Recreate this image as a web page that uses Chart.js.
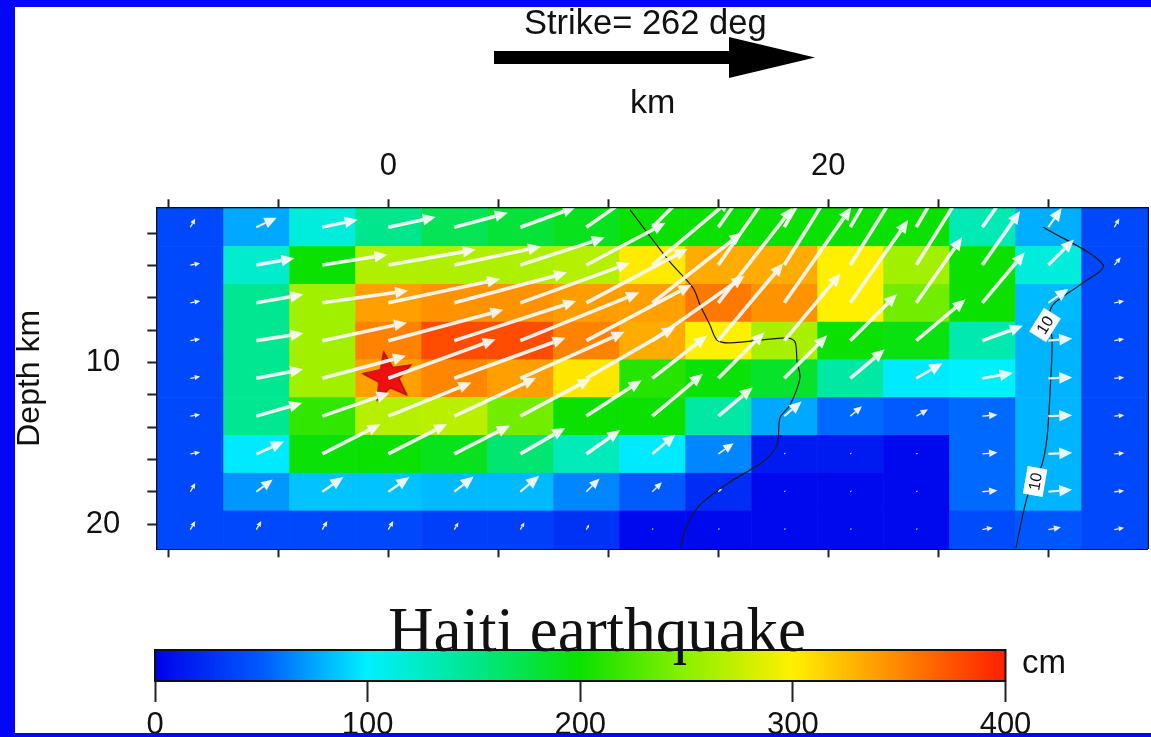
<!DOCTYPE html>
<html>
<head>
<meta charset="utf-8">
<script src="https://cdn.jsdelivr.net/npm/chart.js@4.4.1/dist/chart.umd.min.js"></script>
<style>
  html,body{margin:0;padding:0;}
  body{width:1151px;height:737px;background:#0606f6;position:relative;overflow:hidden;font-family:"Liberation Sans",Arial,sans-serif;}
  #paper{position:absolute;left:15px;top:7px;right:0;bottom:4px;background:#fff;}
  .abs{position:absolute;}
  #main{left:0;top:0;width:1151px;height:600px;}
  #bar{left:0;top:600px;width:1151px;height:137px;}
  .txt{position:absolute;color:#111;white-space:nowrap;line-height:1;}
  #edgeB{position:absolute;left:0;right:0;bottom:0;height:4px;background:#0606f6;}
</style>
</head>
<body>
<div id="paper"></div>
<div class="abs" id="main"><canvas id="chart-slip"></canvas></div>
<div class="abs" id="bar"><canvas id="chart-cbar"></canvas></div>

<div class="txt" style="left:524px;top:5px;font-size:34.5px">Strike= 262 deg</div>
<svg class="abs" style="left:0;top:0" width="1151" height="120">
  <rect x="494" y="51" width="240" height="13" fill="#000"/>
  <polygon points="729,37 815,57.5 729,78" fill="#000"/>
</svg>
<div class="txt" style="left:630px;top:84px;font-size:34px">km</div>
<div class="txt" style="left:1022px;top:645px;font-size:33px">cm</div>
<div class="txt" style="left:388px;top:599px;font-family:'Liberation Serif','Times New Roman',serif;font-size:63px">Haiti earthquake</div>
<div id="edgeB"></div>

<script>
/* ---------- data ---------- */
// subfault centres (km along strike / depth km)
const strikeKm = [-9,-6,-3,0,3,6,9,12,15,18,21,24,27,30,33];
const depthKm  = [1.62,3.96,6.30,8.64,10.97,13.31,15.65,17.99,20.33];
const cellHalfStrike = 1.5, cellHalfDepth = 1.169;

// slip (cm), one row per depth, top row first
const slipRows = [
  [40, 76,115,150,170,180,190,200,200,200,200,200,132, 78, 40],
  [40,122,200,265,265,265,268,303,333,333,300,259,200,115, 40],
  [40,148,259,338,345,345,340,338,357,345,300,240,200, 82, 40],
  [40,148,259,352,378,378,352,333,300,262,200,195,135, 80, 40],
  [40,148,259,338,350,338,305,210,198,185,140, 98,100, 80, 40],
  [40,148,215,268,270,240,200,200,140, 76, 55, 50, 55, 80, 40],
  [40, 98,198,200,190,160,130, 98, 65, 15, 15,  5, 55, 80, 40],
  [40, 70, 85, 85, 82, 82, 65, 50, 25,  5,  5,  5, 55, 80, 40],
  [40, 40, 40, 40, 35, 35, 28,  5,  5,  5,  5,  5, 42, 48, 40],
];
// slip direction on screen (deg, counter-clockwise from along-strike)
const rakeRows = [
  [60,25,12,12,15,20,35,45,55,60,60,60,55,55,60],
  [10,10, 9,10,12,18,28,40,55,58,58,58,55,45,50],
  [10,10, 8,12,15,20,28,38,52,55,55,55,50,35,10],
  [10, 9,12,15,18,22,28,35,50,50,45,40,20, 5,10],
  [10,11,15,20,20,24,30,38,45,45,40,30,10, 2, 5],
  [10,16,19,22,25,28,33,40,40,40,40,30, 5, 2, 5],
  [10,24,27,27,27,30,35,40,35,40,40,30, 5, 3, 5],
  [60,37,35,35,38,40,45,45,40,40,40,30, 5, 5, 5],
  [60,60,60,60,60,60,60,60,40,40,40,40,10,10,10],
];

// hypocentre
const hypoX = [0];
const hypoDepth = [10.9];

// "10" contours
const contourAX = [10.99,12.80,13.85,14.17,14.62,14.94,15.53,18.12,18.49,18.58,18.71,18.26,17.80,17.67,17.03,15.53,14.17,13.58,13.26];
const contourAD = [0.55,3.77,5.38,6.43,7.67,8.60,8.78,8.47,8.72,9.96,10.95,12.62,13.42,15.09,16.14,17.38,18.80,20.04,21.47];
const contourBX = [29.76,32.49,31.44,30.21,29.99,30.17,30.08,29.94,29.71,29.40,29.03,28.62,28.53];
const contourBD = [1.60,3.95,5.19,6.43,7.54,8.47,11.81,14.66,16.33,17.13,18.37,20.84,21.47];
const contourLabelX = [29.85,29.40];
const contourLabelD = [7.67,17.36];
const contourLabelAngle = [-58,-80];
const contourLabelText = ["10","10"];

// axes
const xRange = [-10.5, 34.5];
const yRange = [0.45, 21.49];
const xTickKm = [-10,-5,0,5,10,15,20,25,30];
const xLabelKm = [0,20];
const yTickKm = [2,4,6,8,10,12,14,16,18,20];
const yLabelKm = [10,20];

// colour scale
const cmapStops  = [0,50,100,150,200,250,300,350,400];
const cmapColors = [[0,0,235],[0,90,255],[0,240,255],[0,230,140],[10,225,0],[140,240,0],[255,240,0],[255,135,0],[255,30,0]];
const cbarTicks  = [0,100,200,300,400];

/* ---------- helpers ---------- */
const FONT = '"Liberation Sans", Arial, sans-serif';
const ARROW_PX_PER_CM = 0.35, ARROW_OFFSET_PX = 4;

function slipColor(v){
  for(let i=0;i<cmapStops.length-1;i++){
    if(v<=cmapStops[i+1]){
      const t=(v-cmapStops[i])/(cmapStops[i+1]-cmapStops[i]);
      const a=cmapColors[i], b=cmapColors[i+1];
      return `rgb(${a.map((c,k)=>Math.round(c+(b[k]-c)*t)).join(",")})`;
    }
  }
  return `rgb(${cmapColors[cmapColors.length-1].join(",")})`;
}

function starImage(r){
  const c=document.createElement("canvas");
  c.width=c.height=Math.ceil(r*2+4);
  const g=c.getContext("2d");
  g.translate(c.width/2,c.height/2);
  g.rotate(-0.18);
  g.beginPath();
  for(let i=0;i<10;i++){
    const rad = i%2 ? r*0.42 : r;
    const a = -Math.PI/2 + i*Math.PI/5;
    g.lineTo(rad*Math.cos(a), rad*Math.sin(a));
  }
  g.closePath();
  g.fillStyle="#ee1010"; g.fill();
  g.lineWidth=1; g.strokeStyle="#a00000"; g.stroke();
  return c;
}

function drawArrow(ctx,x0,y0,len,deg){
  if(len<=0.5) return;
  const a=deg*Math.PI/180, ux=Math.cos(a), uy=-Math.sin(a);
  const head=Math.min(13,len*0.55), hw=head*0.45;
  const bx=x0+ux*(len-head), by=y0+uy*(len-head);
  ctx.lineWidth=Math.max(1.3,Math.min(3.6,len*0.09));
  ctx.beginPath(); ctx.moveTo(x0,y0); ctx.lineTo(bx,by); ctx.stroke();
  ctx.beginPath();
  ctx.moveTo(x0+ux*len,y0+uy*len);
  ctx.lineTo(bx-uy*hw,by+ux*hw);
  ctx.lineTo(bx+uy*hw,by-ux*hw);
  ctx.closePath(); ctx.fill();
}

const pinTicks = vals => axis => { axis.ticks = vals.map(v=>({value:v})); };

/* ---------- plugins ---------- */
const cellsPlugin = {
  id:"cells",
  beforeDatasetsDraw(chart){
    const {ctx, scales:{x,y}} = chart;
    ctx.save();
    slipRows.forEach((row,r)=>row.forEach((v,c)=>{
      const x0=x.getPixelForValue(strikeKm[c]-cellHalfStrike), x1=x.getPixelForValue(strikeKm[c]+cellHalfStrike);
      const y0=y.getPixelForValue(depthKm[r]-cellHalfDepth), y1=y.getPixelForValue(depthKm[r]+cellHalfDepth);
      ctx.fillStyle=slipColor(v);
      ctx.fillRect(x0,y0,x1-x0+0.6,y1-y0+0.6);
    }));
    ctx.restore();
  }
};

const arrowsPlugin = {
  id:"arrows",
  afterDatasetsDraw(chart){
    const {ctx, chartArea:a, scales:{x,y}} = chart;
    ctx.save();
    ctx.beginPath(); ctx.rect(a.left,a.top,a.width,a.height); ctx.clip();
    ctx.strokeStyle="rgba(250,250,250,0.93)"; ctx.fillStyle="rgba(250,250,250,0.93)";
    ctx.lineCap="butt";
    slipRows.forEach((row,r)=>row.forEach((v,c)=>{
      const len=Math.max(2, v*ARROW_PX_PER_CM-ARROW_OFFSET_PX);
      drawArrow(ctx, x.getPixelForValue(strikeKm[c]), y.getPixelForValue(depthKm[r]), len, rakeRows[r][c]);
    }));
    // contour labels
    contourLabelText.forEach((t,i)=>{
      ctx.save();
      ctx.translate(x.getPixelForValue(contourLabelX[i]), y.getPixelForValue(contourLabelD[i]));
      ctx.rotate(contourLabelAngle[i]*Math.PI/180);
      ctx.fillStyle="#fff"; ctx.fillRect(-14,-10,28,20);
      ctx.fillStyle="#111"; ctx.font="16px "+FONT; ctx.textAlign="center"; ctx.textBaseline="middle";
      ctx.fillText(t,0,1);
      ctx.restore();
    });
    ctx.restore();
  }
};

const cbarPlugin = {
  id:"cbar",
  beforeDatasetsDraw(chart){
    const {ctx, chartArea:a, scales:{x}} = chart;
    const g=ctx.createLinearGradient(x.getPixelForValue(cmapStops[0]),0,x.getPixelForValue(cmapStops[cmapStops.length-1]),0);
    cmapStops.forEach((v,i)=>g.addColorStop((v-cmapStops[0])/(cmapStops[cmapStops.length-1]-cmapStops[0]),`rgb(${cmapColors[i].join(",")})`));
    ctx.save();
    ctx.fillStyle=g; ctx.fillRect(a.left,a.top,a.width,a.height);
    ctx.lineWidth=2; ctx.strokeStyle="#111"; ctx.strokeRect(a.left,a.top,a.width,a.height);
    ctx.restore();
  }
};

/* ---------- main slip chart ---------- */
const tickFont = {size:31, family:FONT};
const frame = {display:true, width:3, color:"#111"};

new Chart(document.getElementById("chart-slip"),{
  type:"scatter",
  data:{datasets:[
    { data:hypoX.map((v,i)=>({x:v,y:hypoDepth[i]})), pointStyle:starImage(26), pointRadius:26 },
    { data:contourAX.map((v,i)=>({x:v,y:contourAD[i]})), showLine:true, borderColor:"#1a1a1a", borderWidth:1.2, pointRadius:0, tension:0.3 },
    { data:contourBX.map((v,i)=>({x:v,y:contourBD[i]})), showLine:true, borderColor:"#1a1a1a", borderWidth:1.2, pointRadius:0, tension:0.3 },
  ]},
  options:{
    responsive:true, maintainAspectRatio:false, animation:false, events:[],
    layout:{padding:0, autoPadding:false},
    plugins:{legend:{display:false}, tooltip:{enabled:false}},
    scales:{
      x:{ type:"linear", position:"top", min:xRange[0], max:xRange[1],
          afterBuildTicks:pinTicks(xTickKm), afterFit:s=>{s.height=208.3;},
          grid:{drawOnChartArea:false, tickLength:9, tickWidth:2, tickColor:"#222"}, border:frame,
          ticks:{font:tickFont, color:"#111", padding:14, autoSkip:false, maxRotation:0,
                 callback:v=>xLabelKm.includes(v)?String(v):""} },
      x2:{ type:"linear", position:"bottom", min:xRange[0], max:xRange[1],
          afterBuildTicks:pinTicks(xTickKm), afterFit:s=>{s.height=51.7;},
          grid:{drawOnChartArea:false, tickLength:9, tickWidth:2, tickColor:"#222"}, border:frame,
          ticks:{autoSkip:false, maxRotation:0, callback:()=>""} },
      y:{ type:"linear", position:"left", reverse:true, min:yRange[0], max:yRange[1],
          afterBuildTicks:pinTicks(yTickKm), afterFit:s=>{s.width=157.3;},
          grid:{drawOnChartArea:false, tickLength:10, tickWidth:2, tickColor:"#222"}, border:frame,
          ticks:{font:tickFont, color:"#111", padding:27, autoSkip:false,
                 callback:v=>yLabelKm.includes(v)?String(v):""},
          title:{display:true, text:"Depth km", color:"#111", font:{size:32, family:FONT}, padding:{top:11,bottom:0}} },
      yR:{ type:"linear", position:"right", reverse:true, min:yRange[0], max:yRange[1],
          afterFit:s=>{s.width=3.7;},
          grid:{drawOnChartArea:false, drawTicks:false}, border:frame,
          ticks:{display:false} },
    },
  },
  plugins:[cellsPlugin, arrowsPlugin],
});

/* ---------- colour bar ---------- */
new Chart(document.getElementById("chart-cbar"),{
  type:"scatter",
  data:{datasets:[{data:[]}]},
  options:{
    responsive:true, maintainAspectRatio:false, animation:false, events:[],
    layout:{padding:{left:155, right:145.5, top:50, bottom:0}, autoPadding:false},
    plugins:{legend:{display:false}, tooltip:{enabled:false}},
    scales:{
      x:{ type:"linear", position:"bottom", min:cbarTicks[0], max:cbarTicks[cbarTicks.length-1],
          afterBuildTicks:pinTicks(cbarTicks), afterFit:s=>{s.height=56;},
          grid:{drawOnChartArea:false, tickLength:21, tickWidth:2, tickColor:"#222"},
          border:{display:true, width:2, color:"#111"},
          ticks:{font:tickFont, color:"#111", padding:5, autoSkip:false, maxRotation:0} },
      y:{ display:false, min:0, max:1 },
    },
  },
  plugins:[cbarPlugin],
});
</script>
</body>
</html>
